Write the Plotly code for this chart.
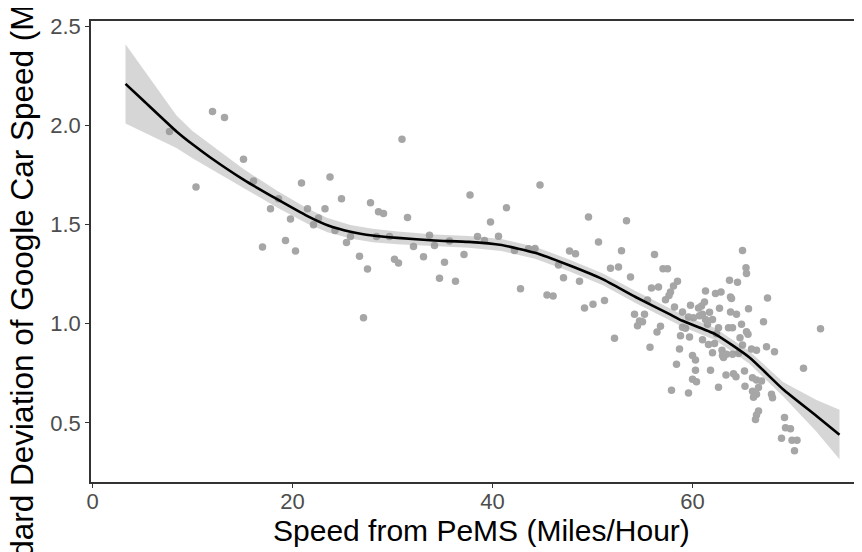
import plotly.graph_objects as go

# Observed scatter points: speed from PeMS (x) and std dev of Google car speed (y)
pems_speed = [
    7.7, 12.0, 13.2, 10.35, 30.95, 15.1, 16.1, 20.9, 23.75, 24.9, 37.75, 17.8, 18.6, 21.5, 23.25,
    27.8, 28.6, 29.1, 31.5, 19.8, 22.6, 22.1, 24.25, 25.8, 25.4, 17.0, 19.3, 20.3, 26.7, 27.5,
    30.2, 30.6, 32.1, 33.1, 33.7, 34.2, 35.2, 35.7, 37.15, 38.5, 28.4, 29.7, 34.7, 36.3, 27.1,
    44.75, 41.4, 39.8, 49.6, 53.4, 39.2, 40.6, 42.2, 43.6, 44.25, 42.8, 45.45, 46.06, 47.7, 48.3,
    46.6, 47.1, 48.7, 50.6, 52.9, 51.8, 52.6, 53.8, 49.2, 50.05, 51.2, 52.2, 54.2, 54.7, 54.5,
    56.2, 65.0, 57.05, 57.5, 65.35, 65.4, 58.5, 58.1, 55.9, 56.6, 57.8, 57.65, 63.7, 64.5, 61.3,
    62.3, 62.85, 63.8, 63.9, 67.5, 55.5, 57.3, 58.2, 59.0, 59.6, 59.8, 60.6, 60.9, 61.2, 61.7,
    62.7, 61.0, 64.4, 65.6, 67.1, 55.2, 55.0, 56.8, 56.45, 59.0, 59.3, 58.8, 59.7, 61.3, 62.0,
    62.6, 63.6, 64.0, 64.9, 64.75, 65.55, 65.4, 72.8, 55.75, 58.7, 62.0, 62.2, 61.6, 62.95, 63.1,
    63.4, 63.0, 64.0, 64.6, 65.9, 66.4, 67.4, 68.2, 65.0, 60.0, 60.3, 58.4, 60.3, 61.8, 60.0,
    60.4, 57.9, 59.6, 62.6, 63.35, 64.1, 64.35, 65.2, 65.25, 66.0, 66.4, 66.9, 66.0, 66.4, 66.1,
    66.6, 67.9, 68.0, 71.1, 66.6, 66.4, 66.3, 69.2, 69.3, 69.8, 68.9, 69.95, 70.45, 70.2, 61.5,
    60.7, 60.1, 61.0, 63.8, 62.4,
]
google_sd = [
    1.97, 2.07, 2.04, 1.69, 1.93, 1.83, 1.72, 1.71, 1.74, 1.63, 1.65, 1.58, 1.63, 1.58, 1.58,
    1.61, 1.565, 1.556, 1.536, 1.528, 1.533, 1.50, 1.47, 1.44, 1.41, 1.387, 1.42, 1.367, 1.34, 1.276,
    1.325, 1.306, 1.39, 1.338, 1.446, 1.395, 1.31, 1.417, 1.35, 1.44, 1.44, 1.44, 1.23, 1.215, 1.03,
    1.70, 1.585, 1.513, 1.538, 1.52, 1.42, 1.442, 1.37, 1.378, 1.38, 1.177, 1.145, 1.14, 1.367, 1.353,
    1.296, 1.232, 1.215, 1.412, 1.368, 1.28, 1.286, 1.236, 1.08, 1.098, 1.118, 0.927, 1.048, 1.014, 0.99,
    1.35, 1.37, 1.277, 1.277, 1.282, 1.254, 1.215, 1.19, 1.18, 1.185, 1.16, 1.143, 1.219, 1.21, 1.165,
    1.153, 1.16, 1.135, 1.127, 1.13, 1.12, 1.121, 1.084, 1.06, 1.034, 1.094, 1.08, 1.09, 1.11, 1.058,
    1.078, 1.048, 1.048, 1.076, 1.01, 1.048, 1.01, 0.987, 0.958, 0.982, 0.977, 0.94, 0.933, 1.022, 1.022,
    0.98, 0.98, 0.98, 0.997, 0.93, 0.947, 0.96, 0.975, 0.881, 0.873, 0.854, 0.90, 0.896, 0.866, 0.83,
    0.846, 0.84, 0.846, 0.85, 0.873, 0.866, 0.884, 0.859, 0.893, 0.84, 0.817, 0.796, 0.765, 0.765, 0.72,
    0.708, 0.665, 0.651, 0.68, 0.742, 0.748, 0.733, 0.762, 0.685, 0.728, 0.717, 0.712, 0.66, 0.645, 0.63,
    0.678, 0.645, 0.627, 0.776, 0.56, 0.54, 0.517, 0.527, 0.476, 0.471, 0.423, 0.413, 0.413, 0.36, 0.997,
    1.04, 1.03, 0.92, 1.06, 0.95,
]

# Smoothed fit (loess) and its confidence band
smooth_x = [3.3, 5.0, 8.4, 10.0, 11.75, 15.1, 18.5, 21.5, 23.5, 25.8, 28.0, 30.5, 34.2, 37.6, 40.9,
            44.25, 47.6, 51.0, 54.3, 57.65, 59.0, 62.3, 65.7, 69.05, 72.4, 74.7]
smooth_y = [2.21, 2.13, 1.97, 1.905, 1.84, 1.727, 1.627, 1.543, 1.497, 1.464, 1.445, 1.433, 1.42,
            1.413, 1.397, 1.358, 1.296, 1.225, 1.135, 1.05, 1.015, 0.947, 0.83, 0.67, 0.535, 0.44]
band_lo = [2.01, 1.968, 1.887, 1.835, 1.78, 1.685, 1.585, 1.505, 1.461, 1.43, 1.411, 1.401, 1.39,
           1.383, 1.367, 1.328, 1.266, 1.195, 1.105, 1.02, 0.985, 0.917, 0.798, 0.634, 0.455, 0.317]
band_hi = [2.41, 2.29, 2.05, 1.972, 1.905, 1.78, 1.67, 1.581, 1.533, 1.498, 1.479, 1.465, 1.45,
           1.443, 1.427, 1.388, 1.326, 1.255, 1.165, 1.08, 1.045, 0.977, 0.862, 0.706, 0.615, 0.566]

x_ticks = [0, 20, 40, 60]
y_ticks = [0.5, 1.0, 1.5, 2.0, 2.5]
x_title = "Speed from PeMS (Miles/Hour)"
y_title = "Standard Deviation of Google Car Speed (Miles/Hour)"

FONT = "Liberation Sans, Arial, Helvetica, sans-serif"

fig = go.Figure()
fig.add_trace(go.Scatter(
    x=pems_speed, y=google_sd, mode="markers",
    marker=dict(color="#a6a6a6", size=7.5, line=dict(width=0)),
    hoverinfo="x+y",
))
fig.add_trace(go.Scatter(
    x=smooth_x + smooth_x[::-1], y=band_hi + band_lo[::-1],
    mode="lines", fill="toself", fillcolor="rgba(153,153,153,0.4)",
    line=dict(width=0), hoverinfo="skip",
))
fig.add_trace(go.Scatter(
    x=smooth_x, y=smooth_y, mode="lines",
    line=dict(color="black", width=2.6, shape="spline", smoothing=0.5),
))

axis_common = dict(
    showgrid=False, zeroline=False, showline=True, linecolor="#333333", linewidth=1.5,
    ticks="outside", ticklen=4, tickwidth=1.2, tickcolor="#333333",
    tickfont=dict(family=FONT, size=22, color="#4d4d4d"),
)

# The page body has an 8px default margin, so the figure is sized to fill the
# remaining 854x544 and the margins are shifted accordingly.
fig.update_layout(
    width=854, height=544,
    margin=dict(l=83, r=0, t=13, b=70),
    plot_bgcolor="white", paper_bgcolor="white",
    showlegend=False,
    font=dict(family=FONT),
    xaxis=dict(range=[-0.15, 76.95], tickvals=x_ticks, ticktext=[str(v) for v in x_ticks],
               mirror=True, ticklabelstandoff=-5, **axis_common),
    yaxis=dict(range=[0.202, 2.527], tickvals=y_ticks, ticktext=[f"{v:.1f}" for v in y_ticks],
               mirror=False, **axis_common),
    annotations=[
        dict(text=x_title, xref="paper", yref="paper", x=0.506, y=-0.106,
             xanchor="center", yanchor="middle", showarrow=False,
             font=dict(family=FONT, size=30, color="black")),
        dict(text=y_title, xref="paper", yref="paper", x=-0.0895, y=0.513,
             xanchor="center", yanchor="middle", textangle=-90, showarrow=False,
             font=dict(family=FONT, size=31.5, color="black")),
    ],
)

fig.write_html("out.html")
